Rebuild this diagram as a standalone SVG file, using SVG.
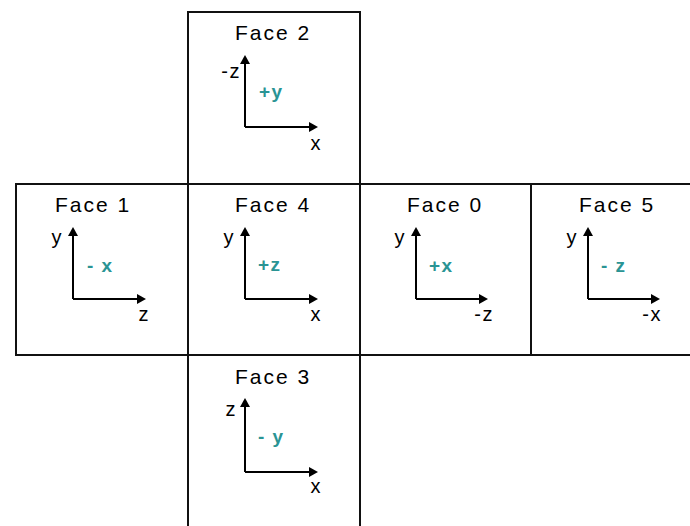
<svg xmlns="http://www.w3.org/2000/svg" width="690" height="526" viewBox="0 0 690 526">
  <defs>
    <marker id="ah" markerUnits="userSpaceOnUse" markerWidth="12" markerHeight="12" refX="3" refY="5" orient="auto">
      <path d="M0,0 L9,5 L0,10 Z" fill="#000"/>
    </marker>
    <style>
      .box { fill: #fff; stroke: #111; stroke-width: 2; }
      .axis { fill: none; stroke: #000; stroke-width: 2; marker-end: url(#ah); }
      .title { font-family: "Liberation Sans", Arial, sans-serif; font-size: 21px; fill: #000; letter-spacing: 2px; text-anchor: middle; }
      .lab { font-family: "Liberation Sans", Arial, sans-serif; font-size: 20px; fill: #000; letter-spacing: 1.5px; }
      .end { text-anchor: end; }
      .dir { font-family: "Liberation Sans", Arial, sans-serif; font-size: 19px; font-weight: bold; fill: #2a9494; letter-spacing: 1.5px; }
    </style>
  </defs>
  <rect width="690" height="526" fill="#fff"/>

  <g id="face2">
    <rect class="box" x="188" y="12" width="172" height="172"/>
    <text class="title" x="273" y="40">Face 2</text>
    <path class="axis" d="M245,127 V61"/>
    <path class="axis" d="M245,127 H312"/>
    <text class="lab end" x="241" y="78">-z</text>
    <text class="dir" x="259" y="98">+y</text>
    <text class="lab end" x="322" y="150">x</text>
  </g>

  <g id="face1">
    <rect class="box" x="16" y="184" width="172" height="171"/>
    <text class="title" x="93" y="212">Face 1</text>
    <path class="axis" d="M73,299 V233"/>
    <path class="axis" d="M73,299 H140"/>
    <text class="lab end" x="63" y="244">y</text>
    <text class="dir" x="87" y="272">- x</text>
    <text class="lab end" x="150" y="321">z</text>
  </g>

  <g id="face4">
    <rect class="box" x="188" y="184" width="172" height="171"/>
    <text class="title" x="273" y="212">Face 4</text>
    <path class="axis" d="M245,299 V233"/>
    <path class="axis" d="M245,299 H312"/>
    <text class="lab end" x="235" y="244">y</text>
    <text class="dir" x="258" y="271">+z</text>
    <text class="lab end" x="322" y="321">x</text>
  </g>

  <g id="face0">
    <rect class="box" x="360" y="184" width="171" height="171"/>
    <text class="title" x="445" y="212">Face 0</text>
    <path class="axis" d="M416,299 V233"/>
    <path class="axis" d="M416,299 H482"/>
    <text class="lab end" x="494" y="321">-z</text>
    <text class="lab end" x="406" y="244">y</text>
    <text class="dir" x="429" y="272">+x</text>
  </g>

  <g id="face5">
    <rect class="box" x="531" y="184" width="165" height="171"/>
    <text class="title" x="617" y="212">Face 5</text>
    <path class="axis" d="M588,299 V233"/>
    <path class="axis" d="M588,299 H654"/>
    <text class="lab end" x="578" y="244">y</text>
    <text class="dir" x="601" y="272">- z</text>
    <text class="lab end" x="662" y="321">-x</text>
  </g>

  <g id="face3">
    <rect class="box" x="188" y="355" width="172" height="180"/>
    <text class="title" x="273" y="384">Face 3</text>
    <path class="axis" d="M245,472 V404"/>
    <path class="axis" d="M245,472 H312"/>
    <text class="lab end" x="237" y="416">z</text>
    <text class="dir" x="258" y="443">- y</text>
    <text class="lab end" x="322" y="493">x</text>
  </g>

  <g id="connectors"/>
</svg>
